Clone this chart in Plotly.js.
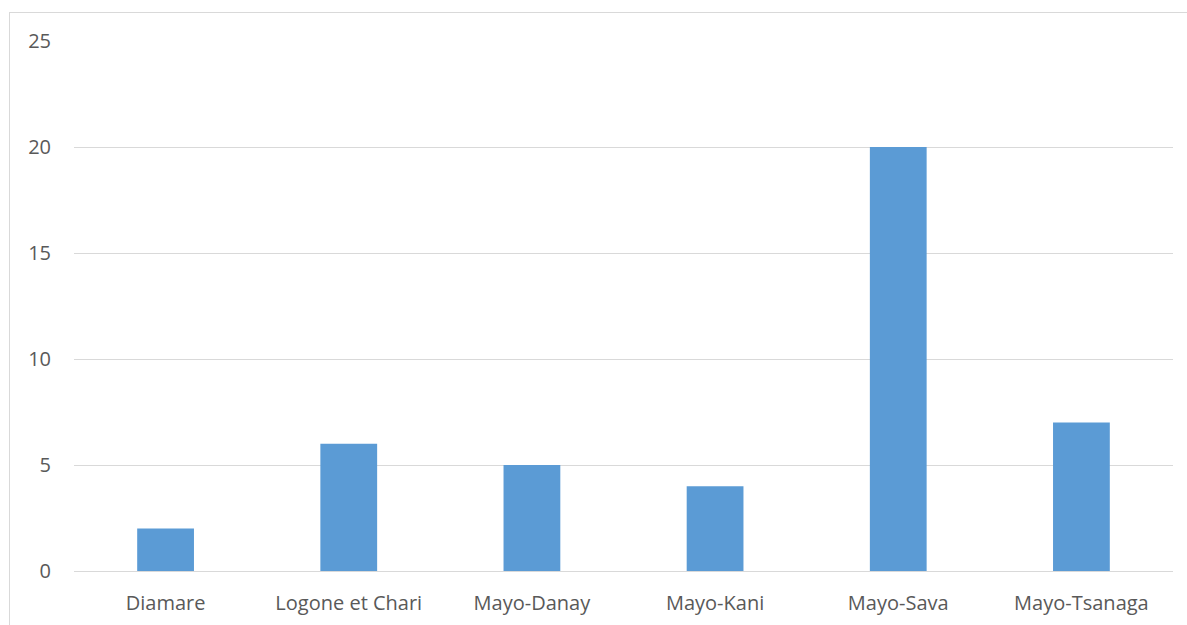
<!DOCTYPE html>
<html><head><meta charset="utf-8">
<script src="https://cdn.plot.ly/plotly-3.0.1.min.js"></script>
<style>
html,body{margin:0;padding:0;background:#fff;}
#frame{position:absolute;left:9px;top:12px;width:1200px;height:640px;border:1px solid #d9d9d9;box-sizing:border-box;}
#chart{position:absolute;left:0;top:0;width:1187px;height:625px;}
</style></head>
<body>
<div id="frame"></div>
<div id="chart"></div>
<script>
const categories = ["Diamare", "Logone et Chari", "Mayo-Danay", "Mayo-Kani", "Mayo-Sava", "Mayo-Tsanaga"];
const values = [2, 6, 5, 4, 20, 7];
const yTicks = [0, 5, 10, 15, 20, 25];

const trace = {
  type: 'bar', x: categories, y: values,
  marker: {color: '#5b9bd5'}, hoverinfo: 'x+y'
};
const layout = {
  width: 1187, height: 625,
  margin: {l: 74, r: 14, t: 41, b: 54},
  paper_bgcolor: 'rgba(0,0,0,0)', plot_bgcolor: 'rgba(0,0,0,0)',
  bargap: 0.69,
  showlegend: false,
  font: {family: 'Open Sans, Liberation Sans, sans-serif', size: 20, color: '#595959'},
  xaxis: {showgrid: false, showline: true, linecolor: '#d9d9d9', linewidth: 1, ticks: '', ticklabelstandoff: 14, tickfont: {size: 20, color: '#595959'}},
  yaxis: {range: [0, 25], tickvals: yTicks, showgrid: true, gridcolor: '#d9d9d9', gridwidth: 1, zeroline: true, zerolinecolor: '#d9d9d9', showline: false, ticks: '', ticklabelstandoff: 22, tickfont: {size: 20, color: '#595959'}}
};
Plotly.newPlot('chart', [trace], layout, {displayModeBar: false, staticPlot: true});
</script>
</body></html>
